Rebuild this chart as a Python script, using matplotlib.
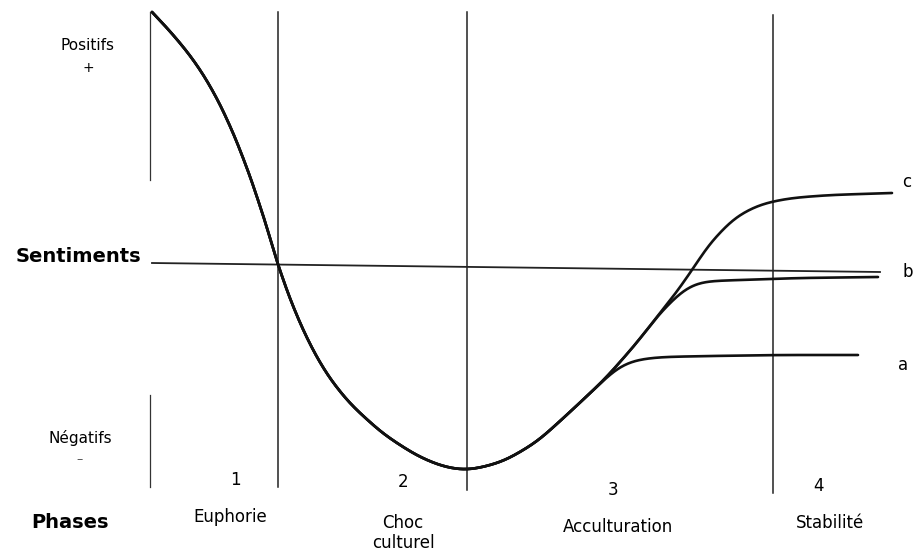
import numpy as np
import matplotlib.pyplot as plt

plt.rcParams['font.family'] = ['Liberation Sans Narrow', 'DejaVu Sans']

# curve points (x, y in image units, y down)
fall_x = [152, 170, 190, 205, 220, 235, 250, 265, 277, 290, 303, 316, 330, 350, 383, 417, 443, 467]
fall_y = [12, 31, 55, 77, 104, 137, 176, 221, 262, 299, 330, 356, 379, 404, 434, 456, 467, 471]

rise_x = [503, 537, 570, 605]
rise_y = [462, 442, 412, 379]

a_x = [618, 633, 660, 710, 780, 858]
a_y = [367, 360, 357, 356, 355, 355]

b_x = [635, 660, 667, 683, 697, 710, 800, 878]
b_y = [345, 313, 306, 290, 282, 281, 278, 277]

c_x = [635, 660, 676, 690, 710, 735, 760, 790, 830, 892]
c_y = [345, 313, 293, 273, 243, 217, 204, 198, 195, 193]

phase_x = [150, 278, 467, 773]
phase_top = [12, 12, 12, 15]
phase_bottom = [487, 487, 490, 493]

phase_num = ['1', '2', '3', '4']
phase_num_x = [235, 403, 613, 818]
phase_num_y = [480, 482, 490, 486]
phase_names = ['Euphorie', 'Choc\nculturel', 'Acculturation', 'Stabilité']
phase_name_x = [230, 403, 618, 830]
phase_name_y = [517, 533, 527, 523]

branch_labels = ['c', 'b', 'a']
branch_label_x = [907, 908, 903]
branch_label_y = [182, 272, 365]


def smooth(xs, ys, sigma=12.0):
    # resample by arc length, then gaussian smoothing
    p = np.column_stack([xs, ys]).astype(float)
    d = np.r_[0, np.cumsum(np.hypot(*np.diff(p, axis=0).T))]
    s = np.arange(0, d[-1], 1.0)
    s = np.r_[s, d[-1]]
    x = np.interp(s, d, p[:, 0])
    y = np.interp(s, d, p[:, 1])
    k = int(4 * sigma)
    w = np.exp(-0.5 * (np.arange(-k, k + 1) / sigma) ** 2)
    w /= w.sum()
    def pad(v):
        return np.r_[2 * v[0] - v[k:0:-1], v, 2 * v[-1] - v[-2:-k - 2:-1]]
    return np.convolve(pad(x), w, 'valid'), np.convolve(pad(y), w, 'valid')


fig = plt.figure(figsize=(9.14, 5.56), dpi=100)
ax = fig.add_axes([0, 0, 1, 1])
ax.set_xlim(0, 914)
ax.set_ylim(556, 0)
ax.axis('off')

# phase separators
for x, t, b in zip(phase_x, phase_top, phase_bottom):
    if x == phase_x[0]:
        ax.plot([x, x], [t, 180], color='#333333', lw=0.9)
        ax.plot([x, x], [395, b], color='#333333', lw=0.9)
    else:
        ax.plot([x, x], [t, b], color='#222222', lw=1.1)

# neutral line
ax.plot([152, 880], [263, 272], color='#222222', lw=1.3)

for bx, by in [(a_x, a_y), (b_x, b_y), (c_x, c_y)]:
    sx, sy = smooth(fall_x + rise_x + bx, fall_y + rise_y + by)
    ax.plot(sx, sy, color='#111111', lw=1.9, solid_capstyle='round')

ax.text(88, 45, 'Positifs', ha='center', va='center', fontsize=11)
ax.text(88, 68, '+', ha='center', va='center', fontsize=10)
ax.text(78, 257, 'Sentiments', ha='center', va='center', fontsize=14, fontweight='bold')
ax.text(80, 438, 'Négatifs', ha='center', va='center', fontsize=11)
ax.text(80, 460, '–', ha='center', va='center', fontsize=9, color='#555555')
ax.text(70, 523, 'Phases', ha='center', va='center', fontsize=14, fontweight='bold')

for s, x, y in zip(phase_num, phase_num_x, phase_num_y):
    ax.text(x, y, s, ha='center', va='center', fontsize=12)
for s, x, y in zip(phase_names, phase_name_x, phase_name_y):
    ax.text(x, y, s, ha='center', va='center', fontsize=12, linespacing=1.2)
for s, x, y in zip(branch_labels, branch_label_x, branch_label_y):
    ax.text(x, y, s, ha='center', va='center', fontsize=12)

fig.savefig('out.png', dpi=100)
